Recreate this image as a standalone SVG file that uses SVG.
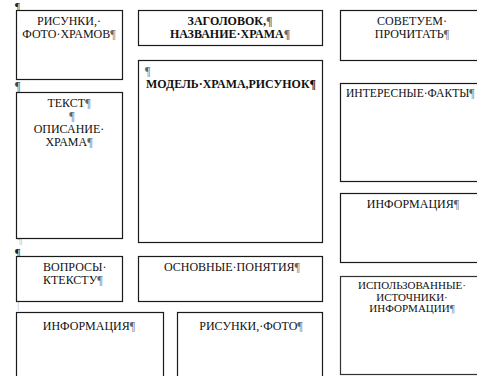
<svg xmlns="http://www.w3.org/2000/svg" width="477" height="376" viewBox="0 0 477 376">
<style>
rect.box{fill:#fff;stroke:#1a1a1a;stroke-width:1.2}
text{font-family:"Liberation Serif","Times New Roman",serif;font-size:12px;fill:#111}
text.b{font-weight:bold}
.m{text-anchor:middle}
.p{fill:#666}
.pl{fill:#bbb}
.s{font-size:11px}
</style>
<rect width="477" height="376" fill="#fff"/>
<g id="marks">
<text x="15" y="10" class="s" style="fill:#222">¶</text>
<text x="15" y="90" style="fill:#444">¶</text>
<text x="17" y="243" class="pl">¶</text>
<text x="15" y="257" style="fill:#222">¶</text>
<text x="17" y="308" class="pl">|</text>
</g>
<g id="n-photos">
<rect class="box" x="16.5" y="10.5" width="106" height="69"/>
<text x="69" y="24.5" class="m">РИСУНКИ,·</text>
<text x="69" y="37.5" class="m">ФОТО·ХРАМОВ<tspan class="p">¶</tspan></text>
</g>
<g id="n-title">
<rect class="box" x="138.5" y="10.5" width="184" height="35"/>
<text x="230" y="24.5" class="m b">ЗАГОЛОВОК,<tspan class="p">¶</tspan></text>
<text x="230" y="37.5" class="m b">НАЗВАНИЕ·ХРАМА<tspan class="p">¶</tspan></text>
</g>
<g id="n-model">
<rect class="box" x="138.5" y="60.5" width="184" height="182"/>
<text x="145" y="75" class="p">¶</text>
<text x="146" y="88" class="b" textLength="170" lengthAdjust="spacingAndGlyphs">МОДЕЛЬ·ХРАМА,РИСУНОК¶</text>
</g>
<g id="n-text">
<rect class="box" x="16.5" y="92.5" width="106" height="146"/>
<text x="69" y="107" class="m">ТЕКСТ<tspan class="p">¶</tspan></text>
<text x="72" y="120" class="m p">¶</text>
<text x="69" y="133" class="m">ОПИСАНИЕ·</text>
<text x="69" y="146" class="m">ХРАМА<tspan class="p">¶</tspan></text>
</g>
<g id="n-advise">
<rect class="box" x="340.5" y="10.5" width="140" height="50"/>
<text x="412" y="24.5" class="m">СОВЕТУЕМ·</text>
<text x="412" y="37.5" class="m">ПРОЧИТАТЬ<tspan class="p">¶</tspan></text>
</g>
<g id="n-facts">
<rect class="box" x="340.5" y="83.5" width="140" height="98"/>
<text x="346" y="97" style="font-size:11.6px">ИНТЕРЕСНЫЕ·ФАКТЫ<tspan class="p">¶</tspan></text>
</g>
<g id="n-info-right">
<rect class="box" x="340.5" y="193.5" width="140" height="69"/>
<text x="413" y="208" class="m">ИНФОРМАЦИЯ<tspan class="p">¶</tspan></text>
</g>
<g id="n-questions">
<rect class="box" x="16.5" y="256.5" width="106" height="45"/>
<text x="43" y="271">ВОПРОСЫ·</text>
<text x="43" y="284">КТЕКСТУ<tspan class="p">¶</tspan></text>
</g>
<g id="n-concepts">
<rect class="box" x="138.5" y="256.5" width="184" height="45"/>
<text x="232" y="271" class="m">ОСНОВНЫЕ·ПОНЯТИЯ<tspan class="p">¶</tspan></text>
</g>
<g id="n-info-left">
<rect class="box" x="16.5" y="312.5" width="147" height="70"/>
<text x="89" y="330" class="m">ИНФОРМАЦИЯ<tspan class="p">¶</tspan></text>
</g>
<g id="n-pictures">
<rect class="box" x="177.5" y="312.5" width="145" height="70"/>
<text x="251" y="330" class="m">РИСУНКИ,·ФОТО<tspan class="p">¶</tspan></text>
</g>
<g id="n-sources">
<rect class="box" x="340.5" y="276.5" width="140" height="98" style="stroke:#333"/>
<text x="412" y="289" class="m s">ИСПОЛЬЗОВАННЫЕ·</text>
<text x="412" y="300.5" class="m s">ИСТОЧНИКИ·</text>
<text x="412" y="312" class="m s">ИНФОРМАЦИИ<tspan class="p">¶</tspan></text>
</g>
<g id="connectors"/>
</svg>
